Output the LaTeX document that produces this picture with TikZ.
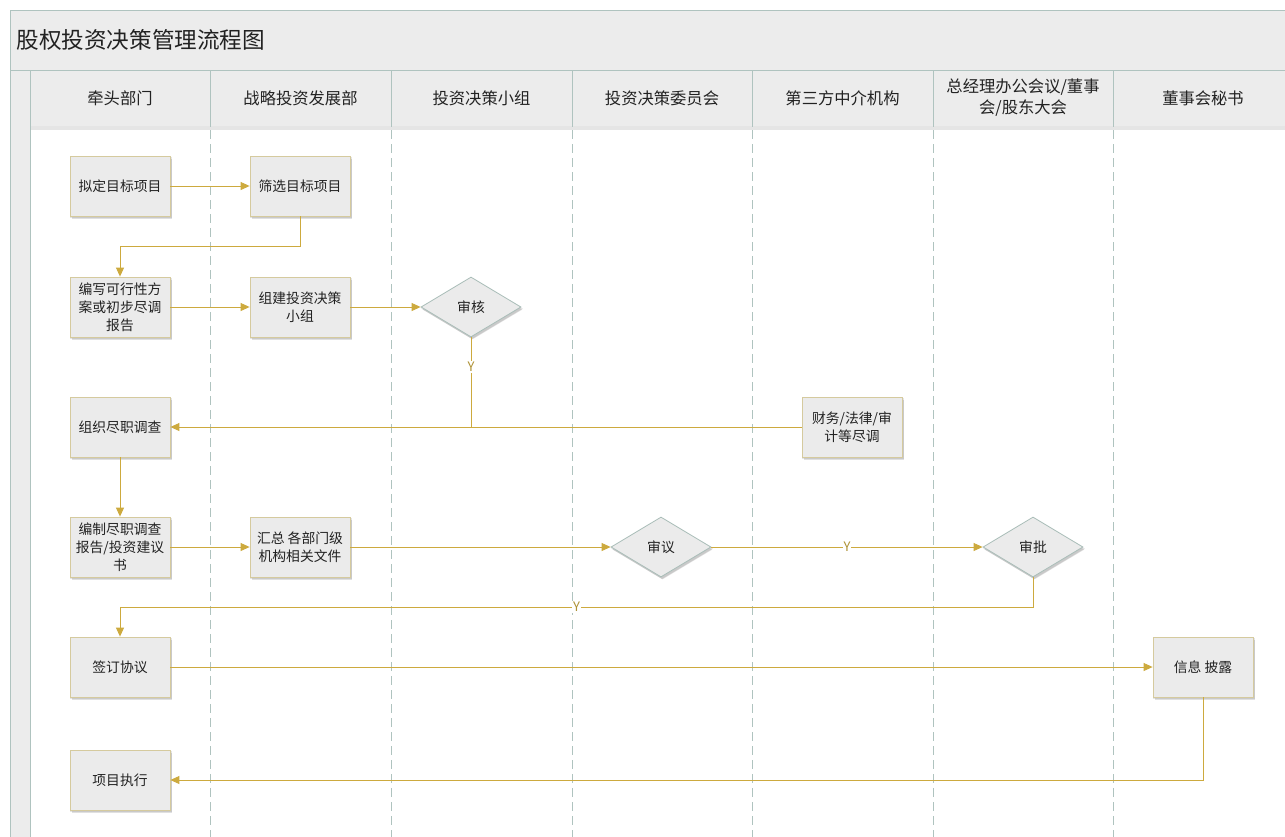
\documentclass[tikz,border=0pt]{standalone}
\usepackage{fontspec}
\setmainfont{Noto Sans CJK SC}
\usetikzlibrary{arrows.meta,shapes.geometric,shadows}
\definecolor{gold}{HTML}{CDAA3E}
\definecolor{boxfill}{HTML}{EBEBEB}
\definecolor{boxline}{HTML}{D5CA9E}
\definecolor{dialine}{HTML}{A9BDB8}
\definecolor{laneline}{HTML}{AFC3BF}
\definecolor{headfill}{HTML}{ECECEC}
\definecolor{txt}{HTML}{222222}
\tikzset{
  softshadow/.style={
    general shadow={shadow xshift=1pt, shadow yshift=-1.5pt, opacity=0.10, fill=black, shadow scale=1.02},
    general shadow={shadow xshift=1.5pt, shadow yshift=-2.5pt, opacity=0.12, fill=black}},
  stepbox/.style={draw=boxline, line width=0.8pt, fill=boxfill, minimum width=100pt, minimum height=60pt,
    align=center, font=\fontsize{13.8}{18}\selectfont, text=txt, inner sep=2pt, softshadow},
  decide/.style={diamond, draw=dialine, line width=0.8pt, fill=boxfill, minimum width=100pt, minimum height=60pt,
    aspect=1.67, inner sep=0pt, font=\fontsize{13.8}{18}\selectfont, text=txt, softshadow},
  flow/.style={draw=gold, line width=0.9pt, -{Triangle[length=9pt,width=8pt]}},
  flowline/.style={draw=gold, line width=0.9pt},
  ylab/.style={fill=white, inner sep=1pt, font=\fontsize{13}{15}\selectfont, text=gold!85!black},
  lanehead/.style={align=center, font=\fontsize{16.3}{21}\selectfont, text=txt},
  lanesep/.style={draw=laneline, line width=0.8pt, dash pattern=on 9pt off 5pt},
}
\begin{document}
\begin{tikzpicture}[x=1pt,y=-1pt]
\useasboundingbox (0,0) rectangle (1285,836);
\fill[white] (0,0) rectangle (1285,836);
% title band and header
\fill[headfill] (10,10) rectangle (1290,127);
\fill[headfill] (10,127) rectangle (30,840);
\fill[black!10] (30,126) rectangle (1290,129.5);
\draw[laneline, line width=0.8pt] (1290,10) -- (10,10) -- (10,840);
\draw[laneline, line width=0.8pt] (10,70) -- (1290,70);
\draw[laneline, line width=0.8pt] (30,70) -- (30,840);
\foreach \x in {210,391,572,752,933,1113} {
  \draw[laneline, line width=0.8pt] (\x,70) -- (\x,127);
  \draw[lanesep] (\x,130) -- (\x,840);
}
\node[anchor=west, font=\fontsize{22.6}{26}\selectfont, text=txt] (title) at (13,40) {股权投资决策管理流程图};
\node[lanehead] (h1) at (120,98) {牵头部门};
\node[lanehead] (h2) at (300.5,98) {战略投资发展部};
\node[lanehead] (h3) at (481.5,98) {投资决策小组};
\node[lanehead] (h4) at (662,98) {投资决策委员会};
\node[lanehead] (h5) at (842.5,98) {第三方中介机构};
\node[lanehead] (h6) at (1023,98) {总经理办公会议/董事\\会/股东大会};
\node[lanehead] (h7) at (1203,98) {董事会秘书};
% nodes
\node[stepbox] (n1) at (120,186) {拟定目标项目};
\node[stepbox] (n2) at (300,186) {筛选目标项目};
\node[stepbox] (n3) at (120,307) {编写可行性方\\案或初步尽调\\报告};
\node[stepbox] (n4) at (300,307) {组建投资决策\\小组};
\node[decide] (d1) at (471,307) {审核};
\node[stepbox] (n5) at (120,427) {组织尽职调查};
\node[stepbox] (n6) at (852,427) {财务/法律/审\\计等尽调};
\node[stepbox] (n7) at (120,547) {编制尽职调查\\报告/投资建议\\书};
\node[stepbox] (n8) at (300,547) {汇总 各部门级\\机构相关文件};
\node[decide] (d2) at (661,547) {审议};
\node[decide] (d3) at (1033,547) {审批};
\node[stepbox] (n9) at (120,667) {签订协议};
\node[stepbox] (n10) at (1203,667) {信息 披露};
\node[stepbox] (n11) at (120,780) {项目执行};
\coordinate (c1) at (120,246);
\coordinate (c2) at (120,607);
% connectors
\draw[flow] (n1) -- (n2);
\draw[flow] (n2.south) |- (c1) -- (n3.north);
\draw[flow] (n3) -- (n4);
\draw[flow] (n4) -- (d1);
\draw[flow] (n6) -- (n5);
\draw[flowline] (d1.south) -- (d1.south |- n5.east) node[pos=0.33, ylab] (y1) {Y};
\draw[flow] (n5) -- (n7);
\draw[flow] (n7) -- (n8);
\draw[flow] (n8) -- (d2);
\draw[flow] (d2) -- (d3) node[midway, ylab] (y2) {Y};
\draw[flow] (d3.south) |- (c2) node[pos=0.75, ylab] (y3) {Y} -- (n9.north);
\draw[flow] (n9) -- (n10);
\draw[flow] (n10.south) |- (n11.east);
\end{tikzpicture}
\end{document}
